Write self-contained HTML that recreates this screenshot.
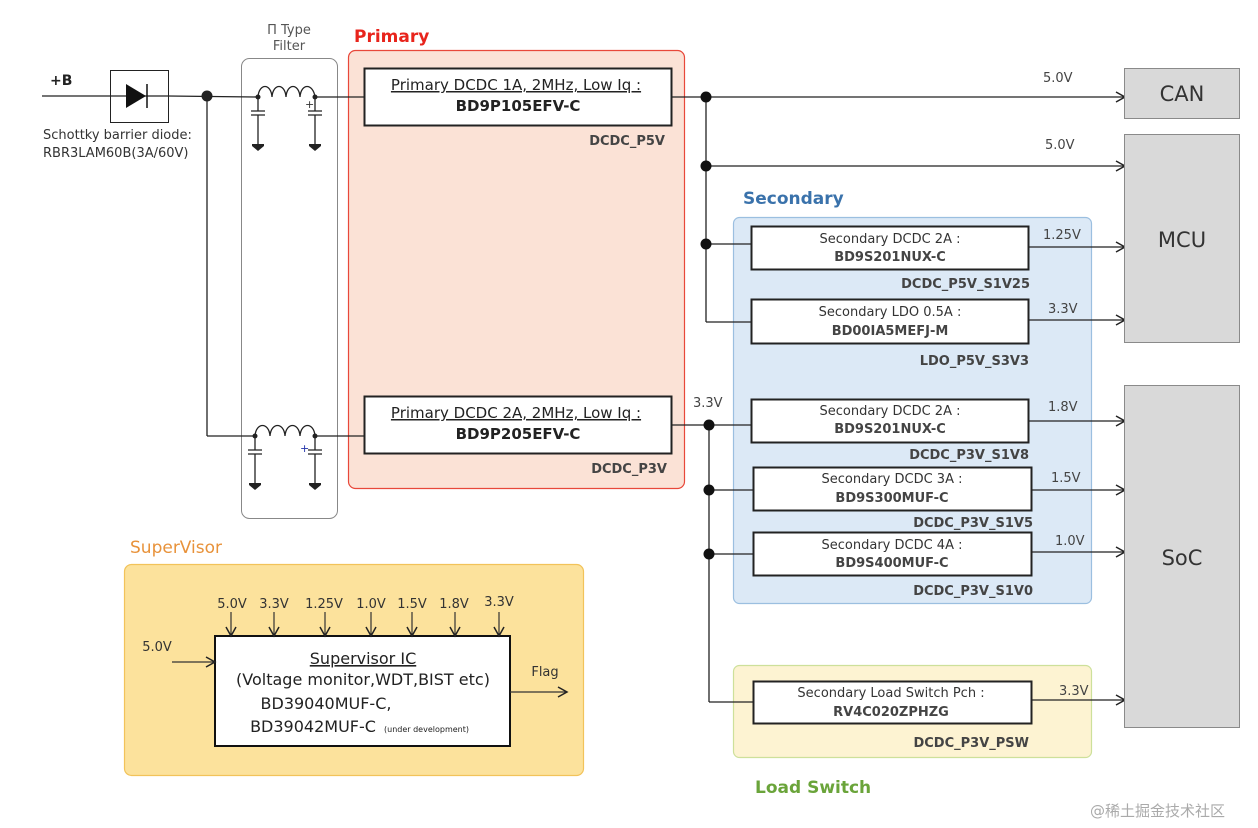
<!DOCTYPE html>
<html><head><meta charset="utf-8"><style>
body{margin:0;background:#fff}
svg{display:block;font-family:"DejaVu Sans","Liberation Sans","Noto Sans CJK SC",sans-serif}
</style></head><body>
<svg width="1258" height="828" viewBox="0 0 1258 828" xmlns="http://www.w3.org/2000/svg">
<defs>
<marker id="a" markerWidth="12" markerHeight="12" refX="10" refY="6" orient="auto" markerUnits="userSpaceOnUse">
<path d="M1,1 L10,6 L1,11" fill="none" stroke="#222" stroke-width="1.5"/></marker>
</defs>
<rect x="348.5" y="50.5" width="336" height="438" rx="7" fill="#fbe2d6" stroke="#e8483a" stroke-width="1.2"/>
<text x="354" y="42" font-size="17" font-weight="bold" fill="#e8241c">Primary</text>
<rect x="733.5" y="217.5" width="358" height="386" rx="6" fill="#dce9f6" stroke="#9bbfe0" stroke-width="1.2"/>
<text x="743" y="204" font-size="17" font-weight="bold" fill="#3a72ab">Secondary</text>
<rect x="733.5" y="665.5" width="358" height="92" rx="6" fill="#fdf3d2" stroke="#cde09a" stroke-width="1.2"/>
<text x="755" y="793" font-size="17" font-weight="bold" fill="#6aa43a">Load Switch</text>
<rect x="124.5" y="564.5" width="459" height="211" rx="7" fill="#fce29c" stroke="#f2c35a" stroke-width="1.2"/>
<text x="130" y="553" font-size="17" fill="#e8923a">SuperVisor</text>
<rect x="241.5" y="58.5" width="96" height="460" rx="8" fill="#fff" stroke="#888"/>
<text x="289" y="34" font-size="13" fill="#555" text-anchor="middle">Π Type</text>
<text x="289" y="50" font-size="13" fill="#555" text-anchor="middle">Filter</text>
<g stroke="#222" stroke-width="1.3" fill="none">
<line x1="42" y1="96" x2="110" y2="96"/>
<line x1="168" y1="96" x2="258" y2="97"/>
<line x1="207" y1="96" x2="207" y2="436"/>
<line x1="207" y1="436" x2="255" y2="436"/>
<path d="M258,97 c1,-14 13,-14 14,0 c1,-14 13,-14 14,0 c1,-14 13,-14 14,0 c1,-14 13,-14 15,0"/>
<path d="M255,436 c1,-14 14,-14 15,0 c1,-14 14,-14 15,0 c1,-14 14,-14 15,0 c1,-14 14,-14 15,0"/>
<line x1="315" y1="97" x2="364" y2="97"/>
<line x1="315" y1="436" x2="364" y2="436"/>
<path d="M258,97 v14 M251,111 h14 M251,115 h14 M258,115 v30"/>
<path d="M315,97 v14 M308,111 h14 M308,115 h14 M315,115 v30"/>
<path d="M255,436 v14 M248,450 h14 M248,454 h14 M255,454 v30"/>
<path d="M315,436 v14 M308,450 h14 M308,454 h14 M315,454 v30"/>
</g>
<g fill="#222">
<path d="M252,144 h12 v2 l-6,5 l-6,-5z"/><path d="M309,144 h12 v2 l-6,5 l-6,-5z"/>
<path d="M249,483 h12 v2 l-6,5 l-6,-5z"/><path d="M309,483 h12 v2 l-6,5 l-6,-5z"/>
<circle cx="258" cy="97" r="2.5"/><circle cx="315" cy="97" r="2.5"/>
<circle cx="255" cy="436" r="2.5"/><circle cx="315" cy="436" r="2.5"/>
<circle cx="207" cy="96" r="5.5"/>
</g>
<text x="305" y="108" font-size="11" fill="#333">+</text>
<text x="300" y="452" font-size="11" fill="#23a">+</text>
<rect x="110.5" y="70.5" width="58" height="52" fill="#fff" stroke="#222"/>
<line x1="110" y1="96" x2="168" y2="96" stroke="#222" stroke-width="1.3"/>
<path d="M126,84 L146,96 L126,108z" fill="#111"/><line x1="147" y1="84" x2="147" y2="108" stroke="#111" stroke-width="1.5"/>
<text x="50" y="85" font-size="14" font-weight="bold" fill="#222">+B</text>
<text x="43" y="139" font-size="13" fill="#333">Schottky barrier diode:</text>
<text x="43" y="157" font-size="13" fill="#333">RBR3LAM60B(3A/60V)</text>
<rect x="364.5" y="68.5" width="307" height="57" fill="#fff" stroke="#222" stroke-width="2"/>
<text x="516" y="90" font-size="15" fill="#222" text-anchor="middle" text-decoration="underline">Primary DCDC 1A, 2MHz, Low Iq :</text>
<text x="518" y="111" font-size="15" font-weight="bold" fill="#222" text-anchor="middle">BD9P105EFV-C</text>
<text x="665" y="145" font-size="13" font-weight="bold" fill="#444" text-anchor="end">DCDC_P5V</text>
<rect x="364.5" y="396.5" width="307" height="57" fill="#fff" stroke="#222" stroke-width="2"/>
<text x="516" y="418" font-size="15" fill="#222" text-anchor="middle" text-decoration="underline">Primary DCDC 2A, 2MHz, Low Iq :</text>
<text x="518" y="439" font-size="15" font-weight="bold" fill="#222" text-anchor="middle">BD9P205EFV-C</text>
<text x="667" y="473" font-size="13" font-weight="bold" fill="#444" text-anchor="end">DCDC_P3V</text>
<g stroke="#222" stroke-width="1.3" fill="none">
<line x1="671" y1="97" x2="1125" y2="97" marker-end="url(#a)"/>
<line x1="706" y1="97" x2="706" y2="322"/>
<line x1="706" y1="166" x2="1125" y2="166" marker-end="url(#a)"/>
<line x1="706" y1="244" x2="751" y2="244"/>
<line x1="706" y1="322" x2="751" y2="322"/>
<line x1="671" y1="425" x2="751" y2="425"/>
<line x1="709" y1="425" x2="709" y2="702"/>
<line x1="709" y1="490" x2="753" y2="490"/>
<line x1="709" y1="554" x2="753" y2="554"/>
<line x1="709" y1="702" x2="753" y2="702"/>
<line x1="1028" y1="247" x2="1125" y2="247" marker-end="url(#a)"/>
<line x1="1028" y1="320" x2="1125" y2="320" marker-end="url(#a)"/>
<line x1="1028" y1="421" x2="1125" y2="421" marker-end="url(#a)"/>
<line x1="1031" y1="490" x2="1125" y2="490" marker-end="url(#a)"/>
<line x1="1031" y1="552" x2="1125" y2="552" marker-end="url(#a)"/>
<line x1="1031" y1="700" x2="1125" y2="700" marker-end="url(#a)"/>
</g>
<g fill="#111">
<circle cx="706" cy="97" r="5.5"/><circle cx="706" cy="166" r="5.5"/><circle cx="706" cy="244" r="5.5"/>
<circle cx="709" cy="425" r="5.5"/><circle cx="709" cy="490" r="5.5"/><circle cx="709" cy="554" r="5.5"/>
</g>
<g font-size="13" fill="#444">
<text x="1043" y="82">5.0V</text><text x="1045" y="149">5.0V</text>
<text x="1043" y="239">1.25V</text><text x="1048" y="313">3.3V</text>
<text x="1048" y="411">1.8V</text><text x="1051" y="482">1.5V</text>
<text x="1055" y="545">1.0V</text><text x="1059" y="695">3.3V</text>
<text x="693" y="407">3.3V</text>
</g>
<g fill="#fff" stroke="#222" stroke-width="2">
<rect x="751.5" y="226.5" width="277" height="43"/>
<rect x="751.5" y="299.5" width="277" height="44"/>
<rect x="751.5" y="399.5" width="277" height="43"/>
<rect x="753.5" y="467.5" width="278" height="43"/>
<rect x="753.5" y="532.5" width="278" height="43"/>
<rect x="753.5" y="681.5" width="278" height="42"/>
</g>
<g font-size="13" fill="#333" text-anchor="middle">
<text x="890" y="243">Secondary DCDC 2A :</text>
<text x="890" y="316">Secondary LDO 0.5A :</text>
<text x="890" y="415">Secondary DCDC 2A :</text>
<text x="892" y="483">Secondary DCDC 3A :</text>
<text x="892" y="549">Secondary DCDC 4A :</text>
<text x="891" y="697">Secondary Load Switch Pch :</text>
</g>
<g font-size="13" font-weight="bold" fill="#444" text-anchor="middle">
<text x="890" y="261">BD9S201NUX-C</text>
<text x="890" y="335">BD00IA5MEFJ-M</text>
<text x="890" y="433">BD9S201NUX-C</text>
<text x="892" y="502">BD9S300MUF-C</text>
<text x="892" y="567">BD9S400MUF-C</text>
<text x="891" y="716">RV4C020ZPHZG</text>
</g>
<g font-size="13" font-weight="bold" fill="#444" text-anchor="end">
<text x="1030" y="288">DCDC_P5V_S1V25</text>
<text x="1029" y="365">LDO_P5V_S3V3</text>
<text x="1029" y="459">DCDC_P3V_S1V8</text>
<text x="1033" y="527">DCDC_P3V_S1V5</text>
<text x="1033" y="595">DCDC_P3V_S1V0</text>
<text x="1029" y="747">DCDC_P3V_PSW</text>
</g>
<g fill="#d9d9d9" stroke="#8a8a8a">
<rect x="1124.5" y="68.5" width="115" height="50"/>
<rect x="1124.5" y="134.5" width="115" height="208"/>
<rect x="1124.5" y="385.5" width="115" height="342"/>
</g>
<g font-size="21" fill="#333" text-anchor="middle">
<text x="1182" y="101">CAN</text><text x="1182" y="247">MCU</text><text x="1182" y="565">SoC</text>
</g>
<rect x="215" y="636" width="295" height="110" fill="#fff" stroke="#111" stroke-width="2"/>
<g stroke="#333" stroke-width="1.2" fill="none">
<line x1="231" y1="612" x2="231" y2="636" marker-end="url(#a)"/>
<line x1="274" y1="612" x2="274" y2="636" marker-end="url(#a)"/>
<line x1="325" y1="612" x2="325" y2="636" marker-end="url(#a)"/>
<line x1="371" y1="612" x2="371" y2="636" marker-end="url(#a)"/>
<line x1="412" y1="612" x2="412" y2="636" marker-end="url(#a)"/>
<line x1="455" y1="612" x2="455" y2="636" marker-end="url(#a)"/>
<line x1="499" y1="612" x2="499" y2="636" marker-end="url(#a)"/>
<line x1="172" y1="662" x2="215" y2="662" marker-end="url(#a)"/>
<line x1="510" y1="692" x2="567" y2="692" marker-end="url(#a)"/>
</g>
<g font-size="13" fill="#333" text-anchor="middle">
<text x="232" y="608">5.0V</text><text x="274" y="608">3.3V</text><text x="324" y="608">1.25V</text>
<text x="371" y="608">1.0V</text><text x="412" y="608">1.5V</text><text x="454" y="608">1.8V</text><text x="499" y="606">3.3V</text>
<text x="157" y="651">5.0V</text><text x="545" y="676">Flag</text>
</g>
<g font-size="16" fill="#222" text-anchor="middle">
<text x="363" y="664" text-decoration="underline">Supervisor IC</text>
<text x="363" y="685">(Voltage monitor,WDT,BIST etc)</text>
<text x="326" y="709">BD39040MUF-C,</text>
<text x="313" y="732">BD39042MUF-C</text>
</g>
<text x="384" y="732" font-size="8" fill="#222">(under development)</text>
<text x="1090" y="816" font-size="15" fill="#aaa">@稀土掘金技术社区</text>
</svg>
</body></html>
